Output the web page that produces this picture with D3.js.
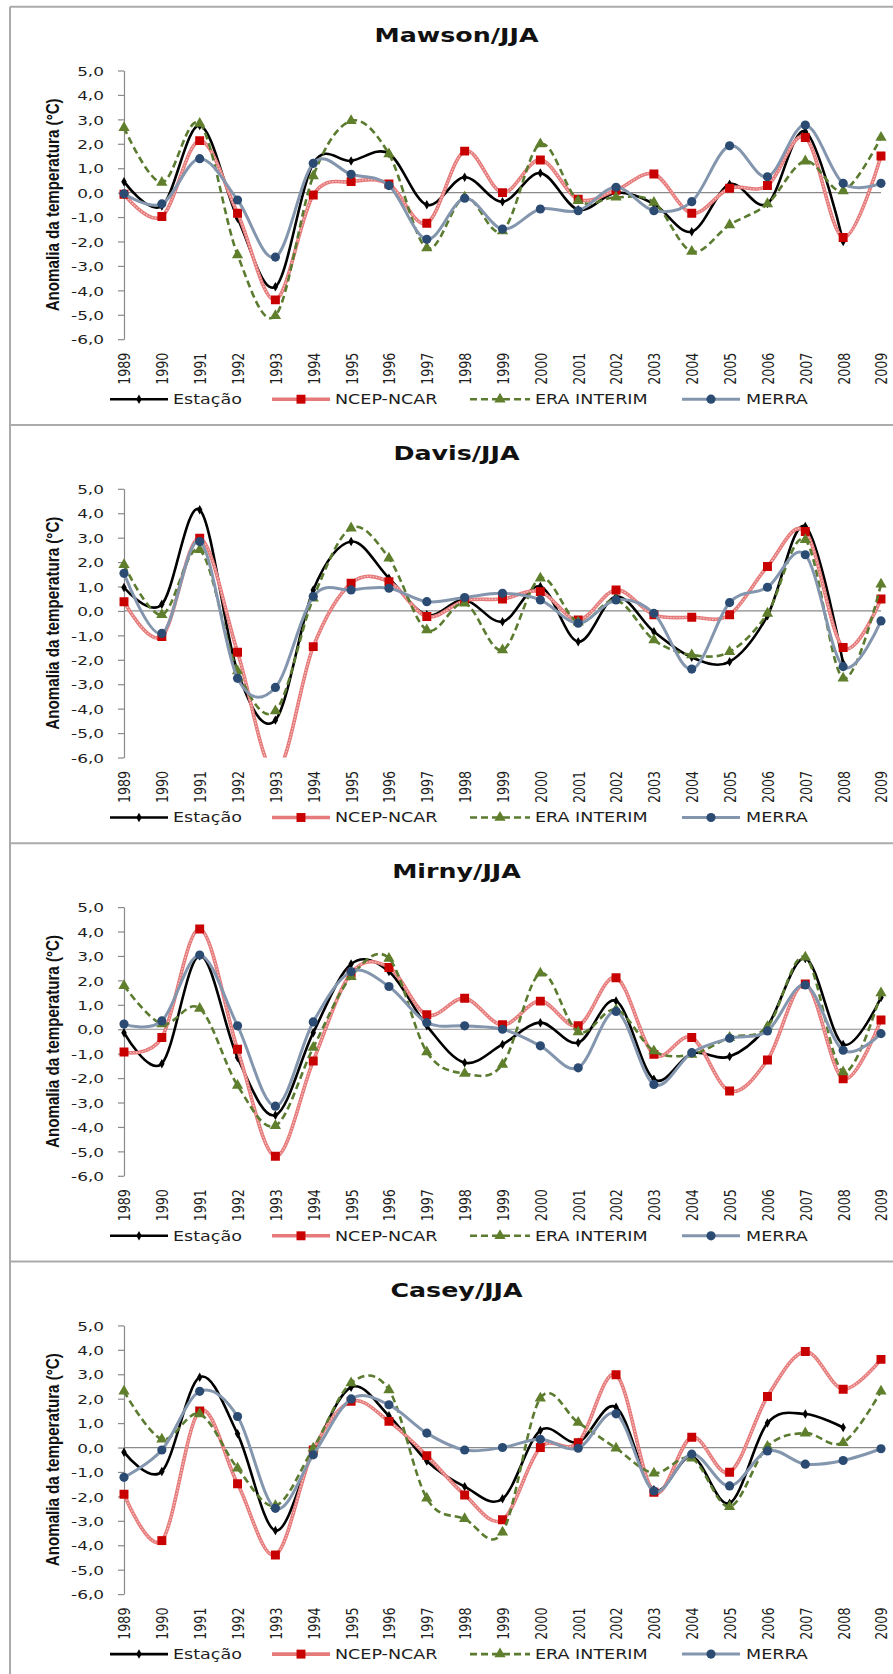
<!DOCTYPE html>
<html>
<head>
<meta charset="utf-8">
<script src="https://cdn.jsdelivr.net/npm/d3@7"></script>
<style>
  html, body { margin: 0; padding: 0; background: #ffffff; }
  svg { display: block; }
</style>
</head>
<body>
<script>
// ---------------- DATA ----------------
const years = [1989,1990,1991,1992,1993,1994,1995,1996,1997,1998,1999,2000,2001,2002,2003,2004,2005,2006,2007,2008,2009];
const stations = ["Mawson/JJA", "Davis/JJA", "Mirny/JJA", "Casey/JJA"];
const seriesNames = ["Estação", "NCEP-NCAR", "ERA INTERIM", "MERRA"];
const yTicks = [5, 4, 3, 2, 1, 0, -1, -2, -3, -4, -5, -6];
const yAxisTitle = "Anomalia da temperatura (°C)";

const mawsonEstacao = [0.45,-0.55,2.75,-1.05,-3.85,1.2,1.3,1.6,-0.5,0.63,-0.37,0.8,-0.7,0.0,-0.46,-1.6,0.34,-0.45,2.5,-2.0,null];
const mawsonNcep    = [-0.07,-0.98,2.13,-0.84,-4.39,-0.1,0.45,0.35,-1.25,1.7,0.0,1.34,-0.27,0.1,0.76,-0.84,0.18,0.29,2.26,-1.84,1.5];
const mawsonEra     = [2.66,0.41,2.83,-2.55,-5.04,0.68,2.94,1.58,-2.27,-0.19,-1.57,1.99,-0.33,-0.19,-0.4,-2.41,-1.32,-0.46,1.29,0.07,2.26];
const mawsonMerra   = [-0.05,-0.46,1.39,-0.3,-2.64,1.2,0.75,0.29,-1.91,-0.23,-1.49,-0.67,-0.74,0.22,-0.74,-0.37,1.92,0.65,2.77,0.38,0.38];

const davisEstacao = [0.96,0.27,4.14,-2.49,-4.47,0.86,2.84,1.34,-0.16,0.45,-0.44,1.0,-1.26,0.59,-0.85,-1.9,-2.08,-0.2,3.46,-2.14,null];
const davisNcep    = [0.38,-1.05,2.98,-1.69,-6.6,-1.46,1.13,1.2,-0.23,0.42,0.49,0.79,-0.37,0.86,-0.16,-0.26,-0.16,1.82,3.25,-1.5,0.49];
const davisEra     = [1.89,-0.16,2.5,-2.46,-4.1,0.52,3.39,2.16,-0.78,0.31,-1.6,1.34,-0.46,0.45,-1.19,-1.8,-1.67,-0.1,2.91,-2.76,1.09];
const davisMerra   = [1.54,-0.92,2.84,-2.76,-3.13,0.59,0.86,0.93,0.38,0.55,0.72,0.45,-0.5,0.45,-0.1,-2.38,0.34,0.97,2.3,-2.28,-0.41];

const mirnyEstacao = [-0.14,-1.41,3.01,-1.16,-3.52,-0.14,2.67,2.36,0.14,-1.37,-0.62,0.27,-0.55,1.16,-2.05,-0.99,-1.12,0.14,2.9,-0.62,1.3];
const mirnyNcep    = [-0.93,-0.34,4.1,-0.82,-5.2,-1.3,2.3,2.53,0.59,1.27,0.18,1.15,0.14,2.11,-1.03,-0.34,-2.53,-1.26,1.85,-2.03,0.38];
const mirnyEra     = [1.78,0.21,0.85,-2.3,-3.95,-0.75,2.15,2.9,-0.93,-1.81,-1.44,2.29,-0.11,0.8,-0.89,-1.03,-0.34,0.1,2.95,-1.75,1.48];
const mirnyMerra   = [0.21,0.34,3.04,0.14,-3.15,0.3,2.36,1.75,0.27,0.14,0.0,-0.68,-1.58,0.73,-2.26,-0.96,-0.37,-0.07,1.81,-0.86,-0.18];

const caseyEstacao = [-0.19,-0.98,2.88,0.56,-3.4,-0.16,2.47,1.3,-0.55,-1.6,-2.1,0.7,0.22,1.65,-1.73,-0.37,-2.28,1.0,1.37,0.82,null];
const caseyNcep    = [-1.91,-3.81,1.5,-1.48,-4.4,-0.1,1.89,1.07,-0.33,-1.94,-2.96,0.0,0.2,2.98,-1.83,0.42,-1.01,2.09,3.93,2.39,3.61];
const caseyEra     = [2.3,0.34,1.37,-0.85,-2.38,-0.03,2.64,2.36,-2.08,-2.92,-3.47,2.02,1.02,-0.03,-1.05,-0.44,-2.42,0.04,0.59,0.2,2.3];
const caseyMerra   = [-1.22,-0.1,2.3,1.27,-2.49,-0.3,1.99,1.75,0.59,-0.1,0.0,0.34,-0.03,1.38,-1.78,-0.27,-1.57,-0.14,-0.68,-0.53,-0.05];

const panelData = [
  [mawsonEstacao, mawsonNcep, mawsonEra, mawsonMerra],
  [davisEstacao, davisNcep, davisEra, davisMerra],
  [mirnyEstacao, mirnyNcep, mirnyEra, mirnyMerra],
  [caseyEstacao, caseyNcep, caseyEra, caseyMerra]
];

// ---------------- STYLE / LAYOUT ----------------
const W = 893, H = 1674;
const panelTop0 = 6.7, panelStep = 418.3;
const plotLeft = 124, plotRight = 881;
const plotTopOff = 63.8, plotBotOff = 332.5;
const SX = 1.3; // horizontal stretch of the reference's text
const styles = [
  { line: "#000000", width: 2.6, dash: null, symbol: d3.symbolDiamond, size: 26, fill: "#000000" },
  { line: "#e67a7a", width: 3.6, dash: null, symbol: d3.symbolSquare, size: 80, fill: "#c80000" },
  { line: "#5b7b30", width: 2.6, dash: "7,4", symbol: d3.symbolTriangle, size: 55, fill: "#5f7f2c" },
  { line: "#8396ae", width: 3.0, dash: null, symbol: d3.symbolCircle, size: 66, fill: "#2b4b73" }
];
const legendPos = [
  { x1: 110, x2: 168, tx: 173 },
  { x1: 272, x2: 330, tx: 335 },
  { x1: 470, x2: 530, tx: 535 },
  { x1: 682, x2: 740, tx: 746 }
];
const textColor = "#1e1e1e";
const fmt = v => d3.format(".1f")(v).replace(".", ",").replace("\u2212", "-");

const svg = d3.select("body").append("svg")
  .attr("width", W).attr("height", H)
  .attr("viewBox", `0 0 ${W} ${H}`);
svg.append("rect").attr("width", W).attr("height", H).attr("fill", "#ffffff");

const defs = svg.append("defs");

const x = d3.scalePoint().domain(years).range([plotLeft, plotRight]).padding(0);

stations.forEach((name, pi) => {
  const T = panelTop0 + pi * panelStep;
  const g = svg.append("g");
  const y = d3.scaleLinear().domain([-6, 5]).range([T + plotBotOff, T + plotTopOff]);

  // panel border (top line)
  g.append("line").attr("x1", 10).attr("x2", W).attr("y1", T).attr("y2", T)
    .attr("stroke", "#ababab").attr("stroke-width", 2);

  // title
  g.append("text")
    .attr("transform", `translate(456.5,${T + 28}) scale(${SX},1)`)
    .attr("text-anchor", "middle").attr("dy", "0.36em")
    .attr("font-family", "DejaVu Sans").attr("font-weight", "bold")
    .attr("font-size", 19.5).attr("fill", "#111")
    .text(name);

  // y axis title
  g.append("text")
    .attr("transform", `translate(53,${(y(5) + y(-6)) / 2}) scale(${SX},1) rotate(-90)`)
    .attr("text-anchor", "middle").attr("dy", "0.35em")
    .attr("font-family", "Liberation Sans").attr("font-weight", "bold")
    .attr("font-size", 13.5).attr("fill", "#111")
    .attr("textLength", 213).attr("lengthAdjust", "spacingAndGlyphs")
    .text(yAxisTitle);

  // y axis
  const ya = g.append("g").attr("transform", `translate(${plotLeft},0)`)
    .call(d3.axisLeft(y).tickValues(yTicks).tickSize(6).tickSizeOuter(0).tickFormat(fmt));
  ya.select(".domain").attr("stroke", "#8a8a8a").attr("stroke-width", 1.2);
  ya.selectAll(".tick line").attr("stroke", "#8a8a8a").attr("stroke-width", 1.2);
  ya.selectAll(".tick text")
    .attr("x", null).attr("dy", null)
    .attr("transform", `translate(-20,0) scale(${SX},1)`)
    .attr("dy", "0.36em")
    .attr("font-family", "DejaVu Sans").attr("font-size", 13).attr("fill", textColor);

  // zero line
  g.append("line").attr("x1", plotLeft).attr("x2", plotRight)
    .attr("y1", y(0)).attr("y2", y(0))
    .attr("stroke", "#8a8a8a").attr("stroke-width", 1.2);

  // x axis labels
  const xa = g.append("g").attr("transform", `translate(0,${y(-6)})`)
    .call(d3.axisBottom(x).tickSize(0).tickFormat(d => String(d)));
  xa.select(".domain").remove();
  xa.selectAll(".tick text")
    .attr("y", null).attr("dy", null)
    .attr("transform", `translate(0,13.5) scale(${SX},1) rotate(-90)`)
    .attr("text-anchor", "end").attr("dy", "0.36em")
    .attr("font-family", "DejaVu Sans").attr("font-size", 12.6).attr("fill", textColor);

  // clip path for plot area
  const clipId = "clip" + pi;
  defs.append("clipPath").attr("id", clipId)
    .append("rect").attr("x", plotLeft - 6).attr("y", y(5) - 6)
    .attr("width", plotRight - plotLeft + 12).attr("height", y(-6) - y(5) + 6);

  const plot = g.append("g").attr("clip-path", `url(#${clipId})`);

  panelData[pi].forEach((vals, si) => {
    const st = styles[si];
    const pts = years.map((yr, k) => ({ yr, v: vals[k] }));
    const line = d3.line()
      .defined(d => d.v !== null)
      .x(d => x(d.yr)).y(d => y(d.v))
      .curve(d3.curveCardinal.tension(0));
    const path = plot.append("path").datum(pts)
      .attr("d", line).attr("fill", "none")
      .attr("stroke", st.line).attr("stroke-width", st.width)
      .attr("stroke-linejoin", "round");
    if (st.dash) path.attr("stroke-dasharray", st.dash);
    if (si === 1) {
      // hatched texture of the NCEP line
      plot.append("path").datum(pts).attr("d", line).attr("fill", "none")
        .attr("stroke", "#f6c4c4").attr("stroke-width", 1.2)
        .attr("stroke-dasharray", "1.5,1.5");
    }
    plot.selectAll(null).data(pts.filter(d => d.v !== null && d.v >= -6 && d.v <= 5))
      .enter().append("path")
      .attr("d", d3.symbol().type(st.symbol).size(st.size))
      .attr("transform", d => `translate(${x(d.yr)},${y(d.v)})`)
      .attr("fill", st.fill);
  });

  // legend
  const ly = T + 392.5;
  seriesNames.forEach((sn, si) => {
    const st = styles[si], lp = legendPos[si];
    const l = g.append("line").attr("x1", lp.x1).attr("x2", lp.x2)
      .attr("y1", ly).attr("y2", ly)
      .attr("stroke", st.line).attr("stroke-width", st.width);
    if (st.dash) l.attr("stroke-dasharray", st.dash);
    g.append("path")
      .attr("d", d3.symbol().type(st.symbol).size(st.size))
      .attr("transform", `translate(${(lp.x1 + lp.x2) / 2},${ly})`)
      .attr("fill", st.fill);
    g.append("text")
      .attr("transform", `translate(${lp.tx},${ly}) scale(${SX},1)`)
      .attr("dy", "0.36em")
      .attr("font-family", "DejaVu Sans").attr("font-size", 13.5).attr("fill", textColor)
      .text(sn);
  });
});

// left border
svg.append("line").attr("x1", 10).attr("x2", 10).attr("y1", panelTop0).attr("y2", H)
  .attr("stroke", "#ababab").attr("stroke-width", 2);
</script>
</body>
</html>
